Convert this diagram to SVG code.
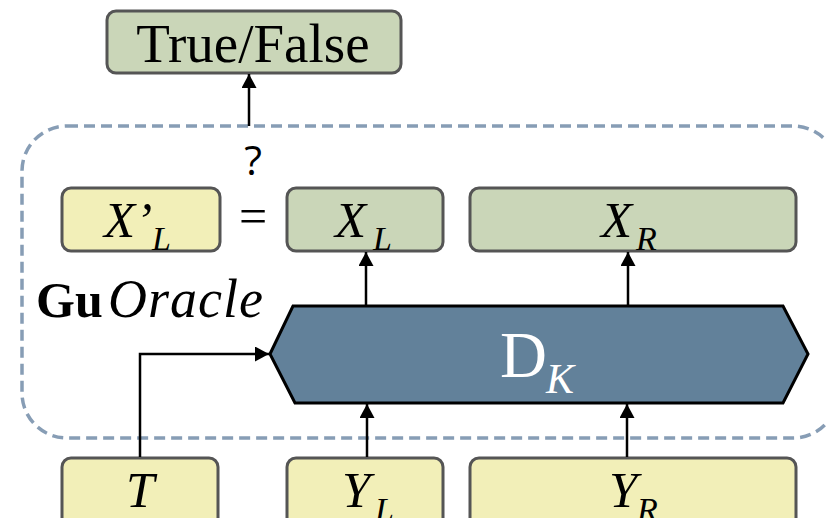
<svg xmlns="http://www.w3.org/2000/svg" width="826" height="518" viewBox="0 0 826 518">
  <style>
    .box { stroke: #555555; stroke-width: 3; }
    .yel { fill: #f2efb8; }
    .grn { fill: #cad6b8; }
    .conn { fill: none; stroke: #000; stroke-width: 2.5; }
    .oracle { fill: none; stroke: #879db5; stroke-width: 3.5; stroke-dasharray: 11 6; }
  </style>
  <defs>
    <marker id="arrow" markerUnits="userSpaceOnUse" markerWidth="15" markerHeight="15" refX="14" refY="7.5" orient="auto">
      <path d="M0,0 L14,7.5 L0,15 z" fill="#000"/>
    </marker>
  </defs>

  <rect width="826" height="518" fill="#ffffff"/>

  <g font-family="'Liberation Serif', 'DejaVu Serif', serif" fill="#000">
    <!-- oracle boundary -->
    <g id="oracle">
      <rect class="oracle" x="22" y="126" width="816" height="312" rx="45" ry="45"/>
      <text x="36" y="317" font-size="50" font-weight="bold">Gu</text>
      <text x="108" y="317" font-size="54" font-style="italic" letter-spacing="1">Oracle</text>
    </g>

    <!-- output -->
    <g id="result">
      <rect class="box grn" x="107" y="11" width="294" height="62" rx="9"/>
      <text x="253" y="62" font-size="55" text-anchor="middle">True/False</text>
    </g>

    <g id="compare">
      <text x="253" y="175" font-family="'Open Sans', sans-serif" font-size="41" text-anchor="middle">?</text>
      <text x="253" y="233" font-size="50" text-anchor="middle">=</text>
    </g>

    <g id="xl-prime">
      <rect class="box yel" x="62" y="188" width="158" height="63" rx="9"/>
      <text font-size="51" font-style="italic"><tspan x="104" y="237">X’</tspan><tspan x="152" y="250" font-size="34">L</tspan></text>
    </g>

    <g id="xl">
      <rect class="box grn" x="287" y="188" width="156" height="63" rx="9"/>
      <text font-size="51" font-style="italic"><tspan x="335" y="237">X</tspan><tspan x="373" y="250" font-size="34">L</tspan></text>
    </g>

    <g id="xr">
      <rect class="box grn" x="470" y="188" width="326" height="63" rx="9"/>
      <text font-size="51" font-style="italic"><tspan x="601" y="237">X</tspan><tspan x="636" y="250" font-size="34">R</tspan></text>
    </g>

    <!-- decryption block -->
    <g id="dk">
      <polygon points="270,354 293,306 783,306 808,354 783,403 295,403" fill="#62819a" stroke="#000" stroke-width="3"/>
      <text x="500" y="377" font-size="65" fill="#ffffff">D</text>
      <text x="546" y="393" font-size="42" font-style="italic" fill="#ffffff">K</text>
    </g>

    <g id="t">
      <rect class="box yel" x="62" y="458" width="156" height="80" rx="9"/>
      <text x="126" y="507" font-size="51" font-style="italic">T</text>
    </g>

    <g id="yl">
      <rect class="box yel" x="287" y="458" width="156" height="80" rx="9"/>
      <text font-size="51" font-style="italic"><tspan x="342" y="507">Y</tspan><tspan x="375" y="521" font-size="34">L</tspan></text>
    </g>

    <g id="yr">
      <rect class="box yel" x="470" y="458" width="326" height="80" rx="9"/>
      <text font-size="51" font-style="italic"><tspan x="609" y="507">Y</tspan><tspan x="637" y="521" font-size="34">R</tspan></text>
    </g>
  </g>

  <!-- connectors -->
  <g id="connectors">
    <line class="conn" x1="249" y1="126" x2="249" y2="74" marker-end="url(#arrow)"/>
    <line class="conn" x1="366" y1="305" x2="366" y2="252" marker-end="url(#arrow)"/>
    <line class="conn" x1="628" y1="305" x2="628" y2="252" marker-end="url(#arrow)"/>
    <line class="conn" x1="367" y1="457" x2="367" y2="404" marker-end="url(#arrow)"/>
    <line class="conn" x1="627" y1="457" x2="627" y2="404" marker-end="url(#arrow)"/>
    <path class="conn" d="M140,457 V354 H269" marker-end="url(#arrow)"/>
  </g>
</svg>
